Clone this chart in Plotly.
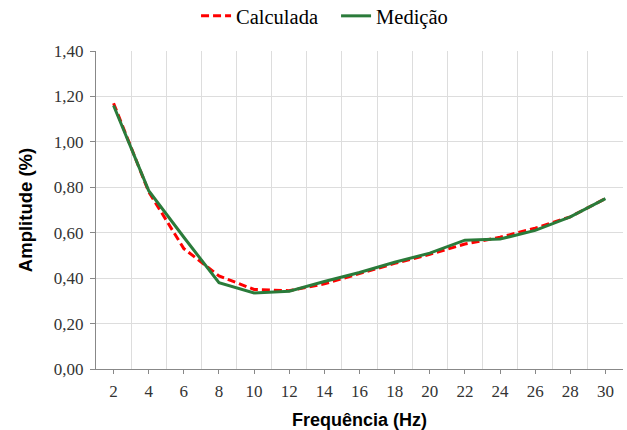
import plotly.graph_objects as go

freq = [2, 4, 6, 8, 10, 12, 14, 16, 18, 20, 22, 24, 26, 28, 30]
calculada = [1.17, 0.78, 0.53, 0.41, 0.35, 0.345, 0.375, 0.42, 0.465, 0.505, 0.55, 0.58, 0.62, 0.67, 0.75]
medicao = [1.16, 0.785, 0.58, 0.38, 0.335, 0.342, 0.385, 0.425, 0.47, 0.51, 0.567, 0.572, 0.61, 0.67, 0.75]
y_ticks = [0, 0.2, 0.4, 0.6, 0.8, 1.0, 1.2, 1.4]

fig = go.Figure()
fig.add_trace(go.Scatter(x=freq, y=calculada, mode="lines", name="Calculada",
                         line=dict(color="#FF0000", width=3, dash="8px,4px")))
fig.add_trace(go.Scatter(x=freq, y=medicao, mode="lines", name="Medição",
                         line=dict(color="#2A7B3A", width=3)))

fig.update_layout(
    width=627, height=430,
    margin=dict(l=96, r=4, t=51, b=61, autoexpand=False),
    paper_bgcolor="white", plot_bgcolor="white",
    separators=",.",
    showlegend=True,
    legend=dict(orientation="h", x=0.4555, xanchor="center", y=1.11, yanchor="middle",
                font=dict(family="Liberation Serif, Times New Roman, serif", size=20.5, color="#000000"),
                bgcolor="rgba(0,0,0,0)", itemwidth=30, tracegroupgap=0, entrywidth=95),
    xaxis=dict(
        range=[1, 31], tickmode="linear", tick0=2, dtick=2,
        showgrid=False, zeroline=False,
        showline=True, linecolor="#888888", linewidth=1,
        ticks="outside", ticklen=4, tickcolor="#888888", ticklabelstandoff=3,
        tickfont=dict(family="Liberation Serif, Times New Roman, serif", size=17, color="#333333"),
        minor=dict(tick0=1, dtick=2, showgrid=True, gridcolor="#DDDDDD", gridwidth=1, ticks=""),
        title=dict(text="<b>Frequência (Hz)</b>", standoff=14,
                   font=dict(family="Liberation Sans, Arial, sans-serif", size=18, color="#000000")),
    ),
    yaxis=dict(
        range=[0, 1.4], tickvals=y_ticks, tickformat=".2f",
        showgrid=True, gridcolor="#DDDDDD", gridwidth=1, zeroline=False,
        showline=True, linecolor="#888888", linewidth=1,
        ticks="outside", ticklen=5, tickcolor="#888888", ticklabelstandoff=3,
        tickfont=dict(family="Liberation Serif, Times New Roman, serif", size=17, color="#333333"),
        title=dict(text="<b>Amplitude (%)</b>", standoff=16,
                   font=dict(family="Liberation Sans, Arial, sans-serif", size=18.5, color="#000000")),
    ),
)

fig.write_html("out.html", config={"displayModeBar": False},
               post_script="document.body.style.margin='0';")
